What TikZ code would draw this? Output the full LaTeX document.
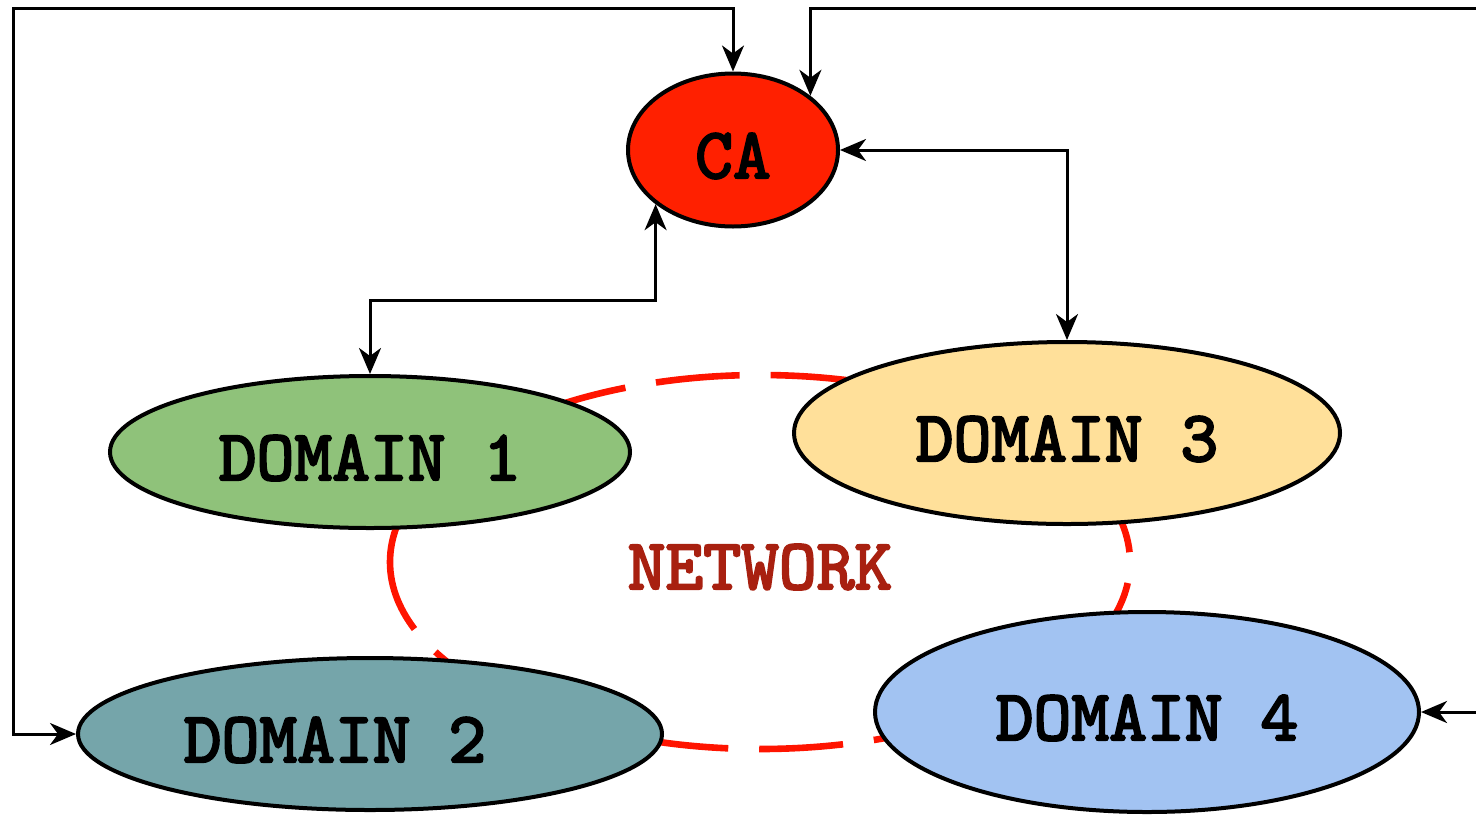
\documentclass[tikz,border=0pt]{standalone}
\usepackage{fontspec}
\newfontfamily\courfont{lmmono10-regular.otf}[FakeBold=3]
\usetikzlibrary{shapes.geometric,arrows.meta}
\definecolor{caRed}{HTML}{FF2000}
\definecolor{dOne}{HTML}{8FC27A}
\definecolor{dTwo}{HTML}{75A5AA}
\definecolor{dThree}{HTML}{FFE09A}
\definecolor{dFour}{HTML}{A2C3F2}
\definecolor{netRed}{HTML}{FF1400}
\definecolor{netText}{HTML}{A82010}
\newcommand{\dtext}[2][0pt]{\hspace*{#1}\raisebox{-3pt}[\height][\depth]{#2}}
\tikzset{
  lbl/.style={font=\fontsize{36}{40}\selectfont\courfont},
  dom/.style={ellipse, draw=black, line width=2pt, inner sep=0pt, lbl},
  conn/.style={line width=1.5pt, {Stealth[length=13pt,width=11pt,inset=4pt]}-{Stealth[length=13pt,width=11pt,inset=4pt]}},
  netline/.style={draw=netRed, line width=3.3pt, dash pattern=on 42pt off 15.5pt},
}
\begin{document}
\begin{tikzpicture}[x=0.5pt,y=-0.5pt]
\useasboundingbox (0,0) rectangle (1476,814);
% network ring
\draw[netline] (390,562) arc[start angle=180, end angle=540, x radius=370, y radius=187];
\node[lbl, text=netText] (net) at (760,567) {NETWORK};
% nodes
\node[dom, fill=caRed, minimum width=105pt, minimum height=76.5pt] (CA) at (733,150) {\dtext{CA}};
\node[dom, fill=dOne, minimum width=260pt, minimum height=76pt] (D1) at (370,452) {\dtext{DOMAIN 1}};
\node[dom, fill=dThree, minimum width=273pt, minimum height=91pt] (D3) at (1067,433) {\dtext{DOMAIN 3}};
\node[dom, fill=dTwo, minimum width=292pt, minimum height=76pt] (D2) at (370,734) {\dtext[-35pt]{DOMAIN 2}};
\node[dom, fill=dFour, minimum width=272pt, minimum height=100pt] (D4) at (1147,712) {\dtext{DOMAIN 4}};
% coordinates
\coordinate (kL) at (13,8);
\coordinate (kR) at (1500,8);
\coordinate (k1) at (CA.215.5 |- 0,300);
% connectors
\draw[conn] (D2.west) -| (kL) -| (CA.north);
\draw[conn] (D4.east) -| (kR) -| (CA.35.5);
\draw[conn] (CA.east) -| (D3.north);
\draw[conn] (D1.north) |- (k1) -- (CA.215.5);
\end{tikzpicture}
\end{document}
